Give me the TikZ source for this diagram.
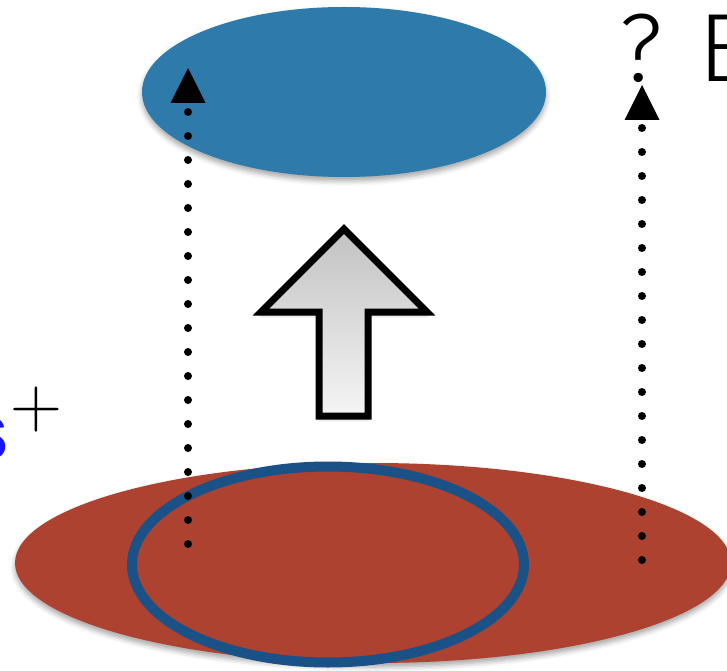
\documentclass[tikz,border=0pt]{standalone}
\usepackage{fontspec,xcolor,tikz}
\usetikzlibrary{arrows.meta,shadows.blur,shapes.geometric}
\setsansfont{Liberation Sans}
\newfontfamily\duenn{Fira Sans Light}
\definecolor{oben}{HTML}{2E7AAB}
\definecolor{unten}{HTML}{AD4230}
\definecolor{ring}{HTML}{1A5187}
\definecolor{ladungblau}{HTML}{1414FF}
\tikzset{scheibe/.style={ellipse,inner sep=0,
    blur shadow={shadow xshift=0pt,shadow yshift=-4pt,shadow blur radius=5pt,shadow opacity=35}},
  punktpfeil/.style={line width=8pt,line cap=round,dash pattern=on 0pt off 24pt,shorten >=35pt},
  spitze/.style={fill=black},
  blockpfeil/.style={draw=black,line width=7pt,top color=black!24,bottom color=black!4,
    blur shadow={shadow xshift=0pt,shadow yshift=-3pt,shadow blur radius=3pt,shadow opacity=35}}}
\newcommand{\pfeilspitze}[1]{\fill[spitze] (#1) -- ++(-17.5,-35) -- ++(35,0) -- cycle;}

\begin{document}
\begin{tikzpicture}[x=1pt,y=1pt]
\useasboundingbox (0,0) rectangle (727,670);
% obere Scheibe
\node[scheibe,fill=oben,minimum width=404pt,minimum height=170pt] (oben) at (344,578) {};
% Blockpfeil
\path[blockpfeil] (344,441) -- (427,358) -- (368,358) -- (368,254)
  -- (319,254) -- (319,358) -- (261,358) -- cycle;
% untere Scheibe mit Ring
\node[scheibe,fill=unten,minimum width=716pt,minimum height=200pt] (unten) at (373,107) {};
\node[ellipse,inner sep=0,draw=ring,line width=10pt,minimum width=392pt,minimum height=196pt] (ring) at (328,105.5) {};
% gepunktete Pfeile
\coordinate (lu) at (188,126);
\coordinate (lo) at (188,602);
\coordinate (ru) at (642,110);
\coordinate (ro) at (642,585);
\draw[punktpfeil] (lu) -- (lo);
\draw[punktpfeil] (ru) -- (ro);
\pfeilspitze{lo}
\pfeilspitze{ro}
% Beschriftung
\node[anchor=base west,inner sep=0,font=\duenn\fontsize{97}{97}\selectfont] (frage) at (619,588) {? E};
\node[anchor=base east,inner sep=0,text=ladungblau,font=\sffamily\bfseries\fontsize{80}{80}\selectfont] (teilchen) at (9.5,211) {s};
\node[inner sep=0,font=\fontsize{72}{72}\selectfont] (ladung) at (36,260) {+};
\end{tikzpicture}
\end{document}
